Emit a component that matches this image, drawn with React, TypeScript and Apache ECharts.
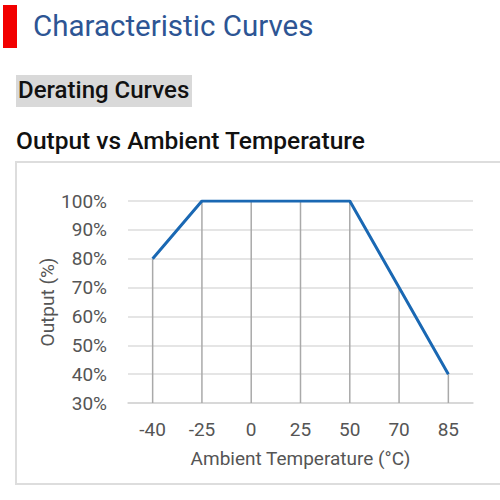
import React, { useEffect, useRef } from "react";
import * as echarts from "echarts";

const categories = ["-40", "-25", "0", "25", "50", "70", "85"];
const outputValues = [80, 100, 100, 100, 100, 70, 40];
const yTicks = [30, 40, 50, 60, 70, 80, 90, 100];

const FONT = "Roboto, 'Noto Sans', sans-serif";

export default function App() {
  const ref = useRef<HTMLDivElement>(null);
  useEffect(() => {
    if (!ref.current) return;
    const chart = echarts.init(ref.current, undefined, { renderer: "svg" });
    chart.setOption({
      animation: false,
      backgroundColor: "#ffffff",
      textStyle: { fontFamily: FONT },
      graphic: [
        { type: "rect", shape: { x: 3, y: 5, width: 14, height: 43 }, style: { fill: "#f20000" } },
        {
          type: "text",
          x: 33,
          y: 11,
          style: { text: "Characteristic Curves", fill: "#2d5594", font: `29.5px ${FONT}` },
        },
        { type: "rect", shape: { x: 16, y: 75, width: 176, height: 32 }, style: { fill: "#d9d9d9" } },
        {
          type: "text",
          x: 18,
          y: 78,
          style: { text: "Derating Curves", fill: "#111111", font: `500 24px ${FONT}` },
        },
        {
          type: "text",
          x: 16,
          y: 128,
          style: { text: "Output vs Ambient Temperature", fill: "#111111", font: `500 24.5px ${FONT}` },
        },
        {
          type: "rect",
          shape: { x: 16, y: 162, width: 500, height: 322 },
          style: { fill: "none", stroke: "#dddddd", lineWidth: 2 },
          z: -1,
        },
      ],
      grid: { left: 128, right: 27, top: 201, bottom: 97 },
      xAxis: {
        type: "category",
        data: categories,
        boundaryGap: true,
        axisTick: { show: false },
        axisLine: { lineStyle: { color: "#d4d4d4", width: 1.5 } },
        axisLabel: { color: "#555555", fontSize: 19, margin: 17, fontFamily: FONT },
        name: "Ambient Temperature (°C)",
        nameLocation: "middle",
        nameGap: 46,
        nameMoveOverlap: false,
        nameTextStyle: { color: "#555555", fontSize: 19, fontFamily: FONT },
      },
      yAxis: {
        type: "value",
        min: yTicks[0],
        max: yTicks[yTicks.length - 1],
        interval: 10,
        axisLine: { show: false },
        axisTick: { show: false },
        splitLine: { lineStyle: { color: "#dcdcdc", width: 1.5 } },
        axisLabel: { color: "#555555", fontSize: 19, margin: 21, formatter: "{value}%", fontFamily: FONT },
        name: "Output (%)",
        nameLocation: "middle",
        nameGap: 71,
        nameMoveOverlap: false,
        nameTextStyle: { color: "#555555", fontSize: 19, fontFamily: FONT },
      },
      series: [
        {
          type: "bar",
          data: outputValues,
          barWidth: 1.5,
          itemStyle: { color: "#a9a9a9" },
          z: 1,
        },
        {
          type: "line",
          data: outputValues,
          symbol: "none",
          lineStyle: { color: "#1a68b3", width: 3 },
          z: 3,
        },
      ],
    });
    return () => chart.dispose();
  }, []);
  return (
    <div
      ref={ref}
      style={{ position: "fixed", left: 0, top: 0, width: 500, height: 500 }}
    />
  );
}
